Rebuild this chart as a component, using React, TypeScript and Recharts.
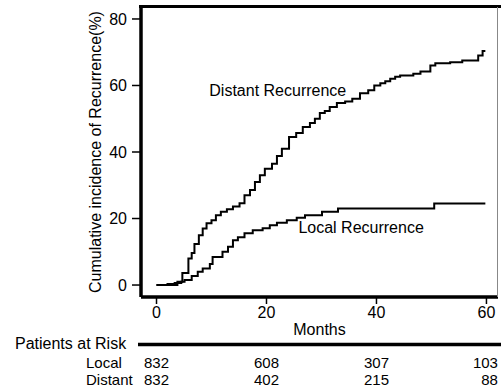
import React from 'react';
import { LineChart, Line, XAxis, YAxis, ReferenceDot } from 'recharts';

const distantTimes = [0, 3.8, 4.7, 5.8, 6.4, 6.9, 7.7, 8.4, 9.1, 10, 10.8, 11.7, 12.8, 13.9, 15.1, 16, 17, 17.9, 18.8, 19.7, 21, 21.9, 22.8, 24.1, 25.4, 26.6, 27.9, 28.8, 29.7, 30.6, 31.5, 32.8, 34.3, 35.6, 37, 38.5, 39.6, 40.7, 41.6, 42.5, 43.4, 44.3, 46.7, 48, 49.8, 50.7, 53.4, 55.6, 58.5, 59.3, 59.8];
const distantValues = [0, 1, 3.6, 8, 9.6, 12.3, 15, 17, 18.6, 19.5, 21, 22, 22.8, 23.6, 24.6, 27, 28.6, 31, 33, 35, 36.5, 38.8, 41, 44.5, 45.7, 47.5, 48.7, 50, 51.7, 52.3, 53.5, 54.7, 55.2, 56, 57.7, 58.6, 60, 60.7, 61.3, 62, 62.6, 63, 63.5, 64.2, 66, 66.7, 67, 67.5, 69, 70.4, 70.4];
const localTimes = [0, 2, 3.3, 4.5, 5.1, 6.4, 7.5, 8.4, 9.7, 10.2, 12, 13, 13.9, 14.8, 16, 17.5, 19.3, 20.6, 21.9, 23.7, 25.5, 27, 30.1, 33, 50.5, 59.8];
const localValues = [0, 0.3, 0.6, 1, 1.5, 2.7, 4, 5, 6.3, 8.4, 10, 11.5, 13.5, 14.4, 15.6, 16.5, 17.1, 18, 18.7, 19.5, 20.2, 21, 22, 23, 24.5, 24.5];

const xTicks = [0, 20, 40, 60];
const yTicks = [0, 20, 40, 60, 80];
const riskTimes = [0, 20, 40, 60];
const localAtRisk = [832, 608, 307, 103];
const distantAtRisk = [832, 402, 215, 88];

const X_DOMAIN: [number, number] = [-2.82, 62.1];
const Y_DOMAIN: [number, number] = [-3.6, 83.6];

const distantData = distantTimes.map((t, i) => ({ t, v: distantValues[i] }));
const localData = localTimes.map((t, i) => ({ t, v: localValues[i] }));

const FONT = '"Liberation Sans", Arial, Helvetica, sans-serif';

const makeRiskTick = (values: number[], rowY: number) => (props: any) => {
  const { x, payload } = props;
  const i = riskTimes.indexOf(payload.value);
  const last = i === riskTimes.length - 1;
  return (
    <text
      x={last ? x + 11.5 : x}
      y={rowY}
      textAnchor={last ? 'end' : 'middle'}
      fontSize={15}
      fontFamily={FONT}
      fill="#000"
    >
      {values[i]}
    </text>
  );
};

export default function App() {
  return (
    <div style={{ position: 'absolute', left: 0, top: 0, width: 501, height: 388 }}>
      <LineChart
        width={501}
        height={388}
        margin={{ top: 7, right: 3, left: 0, bottom: 9 }}
        style={{ fontFamily: FONT }}
      >
        <XAxis
          dataKey="t"
          type="number"
          domain={X_DOMAIN}
          allowDataOverflow
          ticks={xTicks}
          height={48}
          axisLine={{ stroke: '#000', strokeWidth: 3.5 }}
          tickLine={{ stroke: '#000', strokeWidth: 1.5 }}
          tickSize={7}
          tickMargin={3}
          tick={{ fill: '#000', fontSize: 16 }}
          label={{ value: 'Months', position: 'insideBottom', offset: 10, fill: '#000', fontSize: 16 }}
        />
        <XAxis
          xAxisId="risk1"
          dataKey="t"
          type="number"
          domain={X_DOMAIN}
          allowDataOverflow
          ticks={riskTimes}
          height={17}
          axisLine={false}
          tickLine={false}
          tickSize={0}
          tickMargin={0}
          tick={makeRiskTick(localAtRisk, 368.4)}
        />
        <XAxis
          xAxisId="risk2"
          dataKey="t"
          type="number"
          domain={X_DOMAIN}
          allowDataOverflow
          ticks={riskTimes}
          height={17}
          axisLine={false}
          tickLine={false}
          tickSize={0}
          tickMargin={0}
          tick={makeRiskTick(distantAtRisk, 385.4)}
        />
        <YAxis
          type="number"
          domain={Y_DOMAIN}
          allowDataOverflow
          ticks={yTicks}
          width={141}
          axisLine={{ stroke: '#000', strokeWidth: 3.5 }}
          tickLine={{ stroke: '#000', strokeWidth: 1.5 }}
          tickSize={9}
          tickMargin={5}
          tick={{ fill: '#000', fontSize: 16 }}
          label={{
            value: 'Cumulative incidence of Recurrence(%)',
            angle: -90,
            position: 'insideLeft',
            offset: 95,
            fill: '#000',
            fontSize: 16,
            style: { textAnchor: 'middle' },
          }}
        />
        <Line
          data={distantData}
          dataKey="v"
          type="stepAfter"
          stroke="#000"
          strokeWidth={2}
          dot={false}
          activeDot={false}
          isAnimationActive={false}
        />
        <Line
          data={localData}
          dataKey="v"
          type="stepAfter"
          stroke="#000"
          strokeWidth={2}
          dot={false}
          activeDot={false}
          isAnimationActive={false}
        />
        <ReferenceDot
          x={9.6}
          y={58.65}
          r={0}
          fill="none"
          stroke="none"
          label={{ value: 'Distant Recurrence', position: 'right', offset: 0, fill: '#000', fontSize: 16 }}
        />
        <ReferenceDot
          x={25.8}
          y={17.4}
          r={0}
          fill="none"
          stroke="none"
          label={{ value: 'Local Recurrence', position: 'right', offset: 0, fill: '#000', fontSize: 16 }}
        />
        <text key="par" x={15} y={348.7} fontSize={16} fontFamily={FONT} fill="#000">Patients at Risk</text>
        <line key="parline" x1={138} x2={501} y1={344.5} y2={344.5} stroke="#000" strokeWidth={3.5} />
        <text key="lbl1" x={86} y={368.4} fontSize={15} fontFamily={FONT} fill="#000">Local</text>
        <text key="lbl2" x={86} y={385.4} fontSize={15} fontFamily={FONT} fill="#000">Distant</text>
      </LineChart>
      <div
        style={{
          position: 'absolute',
          left: 139,
          top: 5.25,
          width: 362,
          height: 0,
          borderTop: '3.5px solid #000',
          pointerEvents: 'none',
        }}
      />
      <div
        style={{
          position: 'absolute',
          left: 497.4,
          top: 7,
          width: 0,
          height: 290,
          borderLeft: '1.2px solid #888',
          pointerEvents: 'none',
        }}
      />
    </div>
  );
}
